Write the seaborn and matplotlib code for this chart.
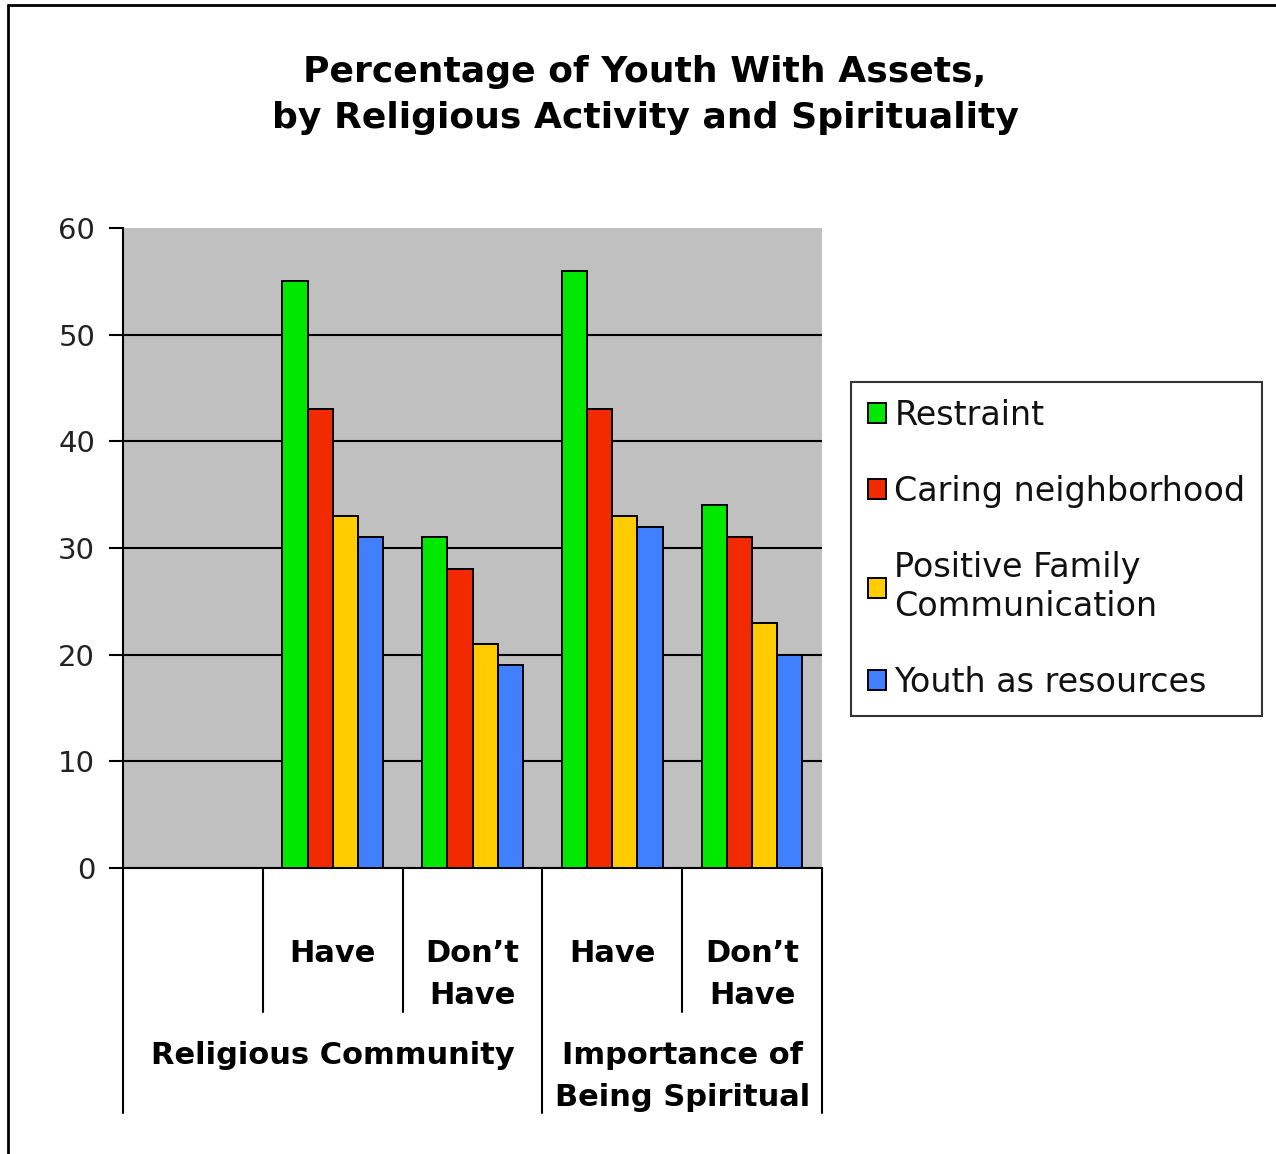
import matplotlib
matplotlib.use("Agg")
import matplotlib.pyplot as plt
from matplotlib.lines import Line2D
import matplotlib.transforms as mtransforms
import seaborn as sns
import pandas as pd

# ---- data ----
groups = ["Religious Community", "Importance of\nBeing Spiritual"]
levels = ["Have", "Don’t\nHave"]
slots = ["RC Have", "RC Don't", "SP Have", "SP Don't"]
series = ["Restraint", "Caring neighborhood", "Positive Family\nCommunication", "Youth as resources"]
restraint = [55, 31, 56, 34]
caring = [43, 28, 43, 31]
family = [33, 21, 33, 23]
youth = [31, 19, 32, 20]
yticks = [0, 10, 20, 30, 40, 50, 60]
title = "Percentage of Youth With Assets,\nby Religious Activity and Spirituality"
colors = ["#00E800", "#F22A00", "#FFCC00", "#4080FF"]

rows = []
for name, vals in zip(series, [restraint, caring, family, youth]):
    for s, v in zip(slots, vals):
        rows.append({"slot": s, "series": name, "value": v})
df = pd.DataFrame(rows)

sns.set_style("white")
plt.rcParams["font.family"] = ["DejaVu Sans"]
plt.rcParams["text.color"] = "black"
plt.rcParams["ytick.color"] = "black"
plt.rcParams["xtick.color"] = "black"

W, H = 1276, 1154
fig = plt.figure(figsize=(W / 100, H / 100), dpi=100)
ax = fig.add_axes([123 / W, 1 - 868 / H, 699 / W, 640 / H])

sns.barplot(data=df, x="slot", y="value", hue="series", order=slots,
            hue_order=series, palette=colors, saturation=1, width=0.72,
            edgecolor="black", linewidth=1.4, ax=ax, zorder=3)

ax.set_facecolor("#C0C0C0")
ax.set_xlim(-1.5, 3.5)
ax.set_ylim(0, 60)
ax.set_yticks(yticks)
ax.set_yticklabels([str(t) for t in yticks], fontsize=21, color="#222222")
for y in yticks[1:-1]:
    ax.axhline(y, color="black", lw=1.5, zorder=1)
ax.tick_params(axis="y", direction="out", length=10, width=1.5, pad=10, left=True)
ax.tick_params(axis="x", length=0, labelbottom=False)
ax.set_xlabel("")
ax.set_ylabel("")
for side in ["top", "right"]:
    ax.spines[side].set_visible(False)
for side in ["left", "bottom"]:
    ax.spines[side].set_color("black")
    ax.spines[side].set_linewidth(1.5)

# category separators below axis
trans = mtransforms.blended_transform_factory(ax.transData, ax.transAxes)
short = -(1012 - 868) / 640
long_ = -(1113 - 868) / 640
for x, y0 in [(-1.5, long_), (-0.5, short), (0.5, short), (1.5, long_), (2.5, short), (3.5, long_)]:
    ax.plot([x, x], [0, y0], color="black", lw=1.5, transform=trans, clip_on=False)

# level labels
lvl_y = -(939 - 868) / 640
for i, s in enumerate(slots):
    ax.text(i, lvl_y, levels[i % 2], transform=trans, ha="center", va="top",
            fontsize=22, fontweight="bold", linespacing=1.55)
grp_y = -(1041 - 868) / 640
ax.text(0.0, grp_y, groups[0], transform=trans, ha="center", va="top",
        fontsize=22, fontweight="bold", linespacing=1.55)
ax.text(2.5, grp_y, groups[1], transform=trans, ha="center", va="top",
        fontsize=22, fontweight="bold", linespacing=1.55)

# legend
handles, labels = ax.get_legend_handles_labels()
if ax.legend_:
    ax.legend_.remove()
leg = fig.legend(handles, labels, loc="upper left",
                 bbox_to_anchor=(851 / W, 1 - 382 / H), borderaxespad=0,
                 fontsize=24, frameon=True, fancybox=False, edgecolor="black",
                 handlelength=0.55, handleheight=0.55, handletextpad=0.25,
                 labelspacing=1.3, borderpad=0.5)
leg.get_frame().set_linewidth(1.5)
for t in leg.get_texts():
    t.set_color("#111111")

fig.suptitle(title, x=645 / W, y=1 - 55 / H, fontsize=26, fontweight="bold",
             va="top", linespacing=1.45)

# figure border (top and left)
fig.add_artist(Line2D([8 / W, 1], [1 - 5 / H, 1 - 5 / H], color="black", lw=2, transform=fig.transFigure))
fig.add_artist(Line2D([8 / W, 8 / W], [0, 1 - 5 / H], color="black", lw=2, transform=fig.transFigure))

fig.savefig("out.png", dpi=100, facecolor="white")
